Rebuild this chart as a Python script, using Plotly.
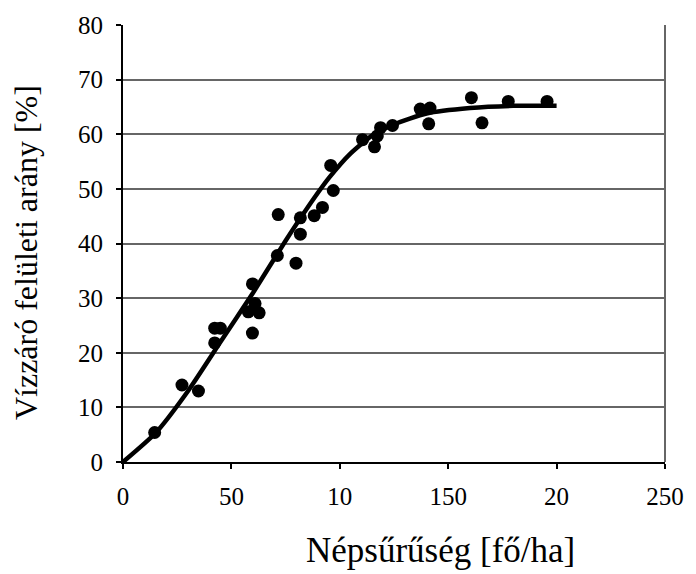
import plotly.graph_objects as go

# Measured points
density = [14.6, 27.2, 34.8, 42.3, 44.9, 42.3, 59.7, 57.8, 60.9, 62.8, 59.7,
           71.2, 71.6, 79.8, 81.8, 81.8, 88.2, 92.0, 95.8, 97.0, 110.5, 116.0,
           117.3, 118.8, 124.3, 137.1, 141.6, 141.0, 160.7, 165.6, 177.7, 195.6]
impervious = [5.4, 14.1, 13.0, 24.5, 24.5, 21.8, 32.6, 27.5, 29.0, 27.3, 23.6,
              37.8, 45.3, 36.4, 41.7, 44.7, 45.1, 46.6, 54.3, 49.7, 59.0, 57.7,
              59.7, 61.2, 61.6, 64.6, 64.8, 61.9, 66.7, 62.1, 66.0, 66.0]

# Fitted trend curve
fit_x = [0, 15, 30, 45, 60, 75, 85, 95, 105, 115, 125, 140, 160, 180, 200]
fit_y = [0, 5.3, 13.0, 22.0, 31.0, 40.5, 46.5, 52.0, 56.5, 59.8, 61.8, 63.8, 64.8, 65.2, 65.2]

x_tickvals = [0, 50, 100, 150, 200, 250]
x_ticktext = ["0", "50", "10", "150", "20", "250"]
y_tickvals = [0, 10, 20, 30, 40, 50, 60, 70, 80]

fig = go.Figure()
fig.add_trace(go.Scatter(x=fit_x, y=fit_y, mode="lines",
                         line=dict(color="black", width=4.5, shape="spline", smoothing=0.6),
                         showlegend=False, hoverinfo="skip"))
fig.add_trace(go.Scatter(x=density, y=impervious, mode="markers",
                         marker=dict(color="black", size=13), showlegend=False))

font = "Liberation Serif, Times New Roman, serif"
fig.update_layout(
    width=696, height=574,
    margin=dict(l=123, r=24, t=15, b=112),
    paper_bgcolor="white", plot_bgcolor="white",
    font=dict(family=font, color="black", size=25),
    xaxis=dict(range=[0, 250], tickvals=x_tickvals, ticktext=x_ticktext,
               showgrid=False, zeroline=False, showline=True, linecolor="black", linewidth=2,
               ticks="outside", ticklen=5, tickcolor="black", tickwidth=1.5,
               ticklabelstandoff=6,
               tickfont=dict(size=25, family=font)),
    yaxis=dict(range=[0, 80], tickvals=y_tickvals,
               showgrid=True, gridcolor="#666666", gridwidth=1.5, zeroline=False,
               showline=True, linecolor="black", linewidth=2,
               ticks="outside", ticklen=5, tickcolor="black", tickwidth=1.5,
               ticklabelstandoff=8,
               tickfont=dict(size=25, family=font)),
    annotations=[
        dict(text="Népsűrűség [fő/ha]", xref="paper", yref="paper", x=0.5865, y=-0.2036,
             xanchor="center", yanchor="middle", showarrow=False,
             font=dict(size=35, family=font, color="black")),
        dict(text="Vízzáró felületi arány [%]", xref="paper", yref="paper", x=-0.1785, y=0.4787,
             xanchor="center", yanchor="middle", showarrow=False, textangle=-90,
             font=dict(size=32, family=font, color="black")),
    ],
)
# right frame line
fig.add_shape(type="line", xref="paper", yref="paper", x0=1, x1=1, y0=0, y1=1,
              line=dict(color="#666666", width=2))
fig.write_html("out.html")
